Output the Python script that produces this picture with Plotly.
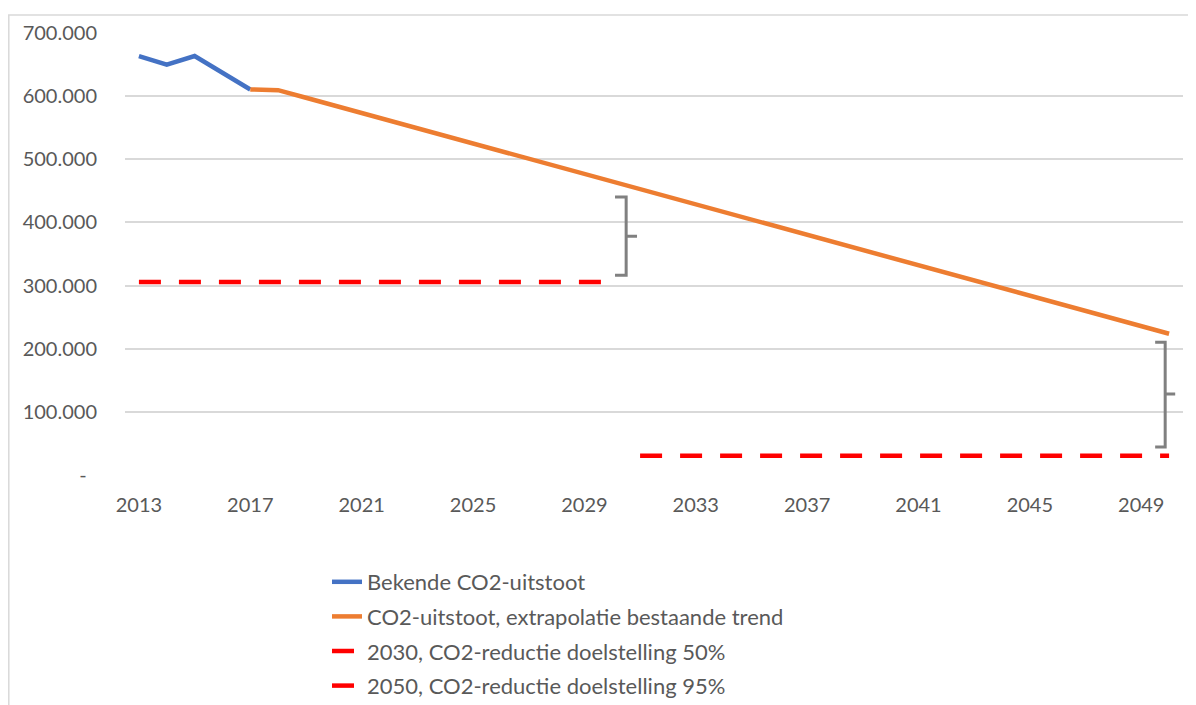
import plotly.graph_objects as go

years_known = [2013, 2014, 2015, 2016, 2017]
known_co2 = [663500, 650000, 663500, 637000, 610600]

years_trend = list(range(2017, 2051))
trend_co2 = [610600, 609500, 597400, 585400, 573300, 561300, 549200, 537200, 525100,
             513000, 501000, 488900, 476900, 464800, 452800, 440700, 428600, 416600,
             404500, 392500, 380400, 368400, 356300, 344200, 332200, 320100, 308100,
             296000, 284000, 271900, 259800, 247800, 235700, 223700]

years_2030 = list(range(2013, 2031))
target_2030 = [305500] * len(years_2030)

years_2050 = list(range(2031, 2051))
target_2050 = [30500] * len(years_2050)

x_ticks = list(range(2013, 2050, 4))
y_ticks = [0, 100000, 200000, 300000, 400000, 500000, 600000, 700000]
y_ticktext = ["-\u00a0\u00a0", "100.000", "200.000", "300.000", "400.000",
              "500.000", "600.000", "700.000"]

# bracket annotations (years, values)
br1 = dict(x_out=2030.10, x_in=2030.50, x_tip=2030.89, top=440300, bottom=316500, mid=378200)
br2 = dict(x_out=2049.50, x_in=2049.86, x_tip=2050.22, top=210400, bottom=44300, mid=128200)

FONT = "Lato"
TXT = "#595959"

# the page body adds an 8px offset; layout numbers below compensate for it
L, T, R, B = 117, 25, 21, 238
PW, PH = 1196 - L - R, 705 - T - B

fig = go.Figure()
fig.add_trace(go.Scatter(x=years_known, y=known_co2, mode="lines",
                         name="Bekende CO2-uitstoot", legendgroup="a",
                         line=dict(color="#4472C4", width=4.5)))
fig.add_trace(go.Scatter(x=years_trend, y=trend_co2, mode="lines",
                         name="CO2-uitstoot, extrapolatie bestaande trend", legendgroup="b",
                         line=dict(color="#ED7D31", width=4.5)))
fig.add_trace(go.Scatter(x=years_2030, y=target_2030, mode="lines",
                         name="2030, CO2-reductie doelstelling 50%", legendgroup="c",
                         line=dict(color="#FF0000", width=4.5, dash="22px,18px")))
fig.add_trace(go.Scatter(x=years_2050, y=target_2050, mode="lines",
                         name="2050, CO2-reductie doelstelling 95%", legendgroup="d",
                         line=dict(color="#FF0000", width=4.5, dash="22px,18px")))

shapes = []
for b in (br1, br2):
    path = (f"M {b['x_out']},{b['top']} L {b['x_in']},{b['top']} L {b['x_in']},{b['bottom']} "
            f"L {b['x_out']},{b['bottom']} M {b['x_in']},{b['mid']} L {b['x_tip']},{b['mid']}")
    shapes.append(dict(type="path", xref="x", yref="y", path=path,
                       line=dict(color="#808080", width=3)))
# outer chart border
shapes.append(dict(type="rect", xref="paper", yref="paper",
                   x0=(0.8 - L) / PW, x1=1.1, y0=-0.8, y1=(T + PH - 7) / PH,
                   line=dict(color="#D9D9D9", width=1.5), layer="below"))

fig.update_layout(
    width=1196, height=705,
    margin=dict(l=L, r=R, t=T, b=B, autoexpand=False),
    paper_bgcolor="white", plot_bgcolor="white",
    font=dict(family=FONT, color=TXT, size=20),
    shapes=shapes,
    showlegend=True,
    legend=dict(xref="container", x=319 / 1196, xanchor="left",
                yref="container", y=1 - 553 / 705, yanchor="top",
                font=dict(size=22, color=TXT, family=FONT), tracegroupgap=3,
                bgcolor="rgba(0,0,0,0)"),
)
fig.update_xaxes(range=[2012.5, 2050.5], tickvals=x_ticks, showgrid=False,
                 zeroline=False, showline=False, ticks="", ticklabelstandoff=16,
                 automargin=False,
                 tickfont=dict(size=20, color=TXT, family=FONT))
fig.update_yaxes(range=[0, 700000], tickvals=y_ticks, ticktext=y_ticktext,
                 showgrid=True, gridcolor="#D9D9D9", gridwidth=1.5, zeroline=False,
                 showline=False, ticks="", ticklabelstandoff=27, automargin=False,
                 tickfont=dict(size=20, color=TXT, family=FONT))

fig.write_html("out.html")
